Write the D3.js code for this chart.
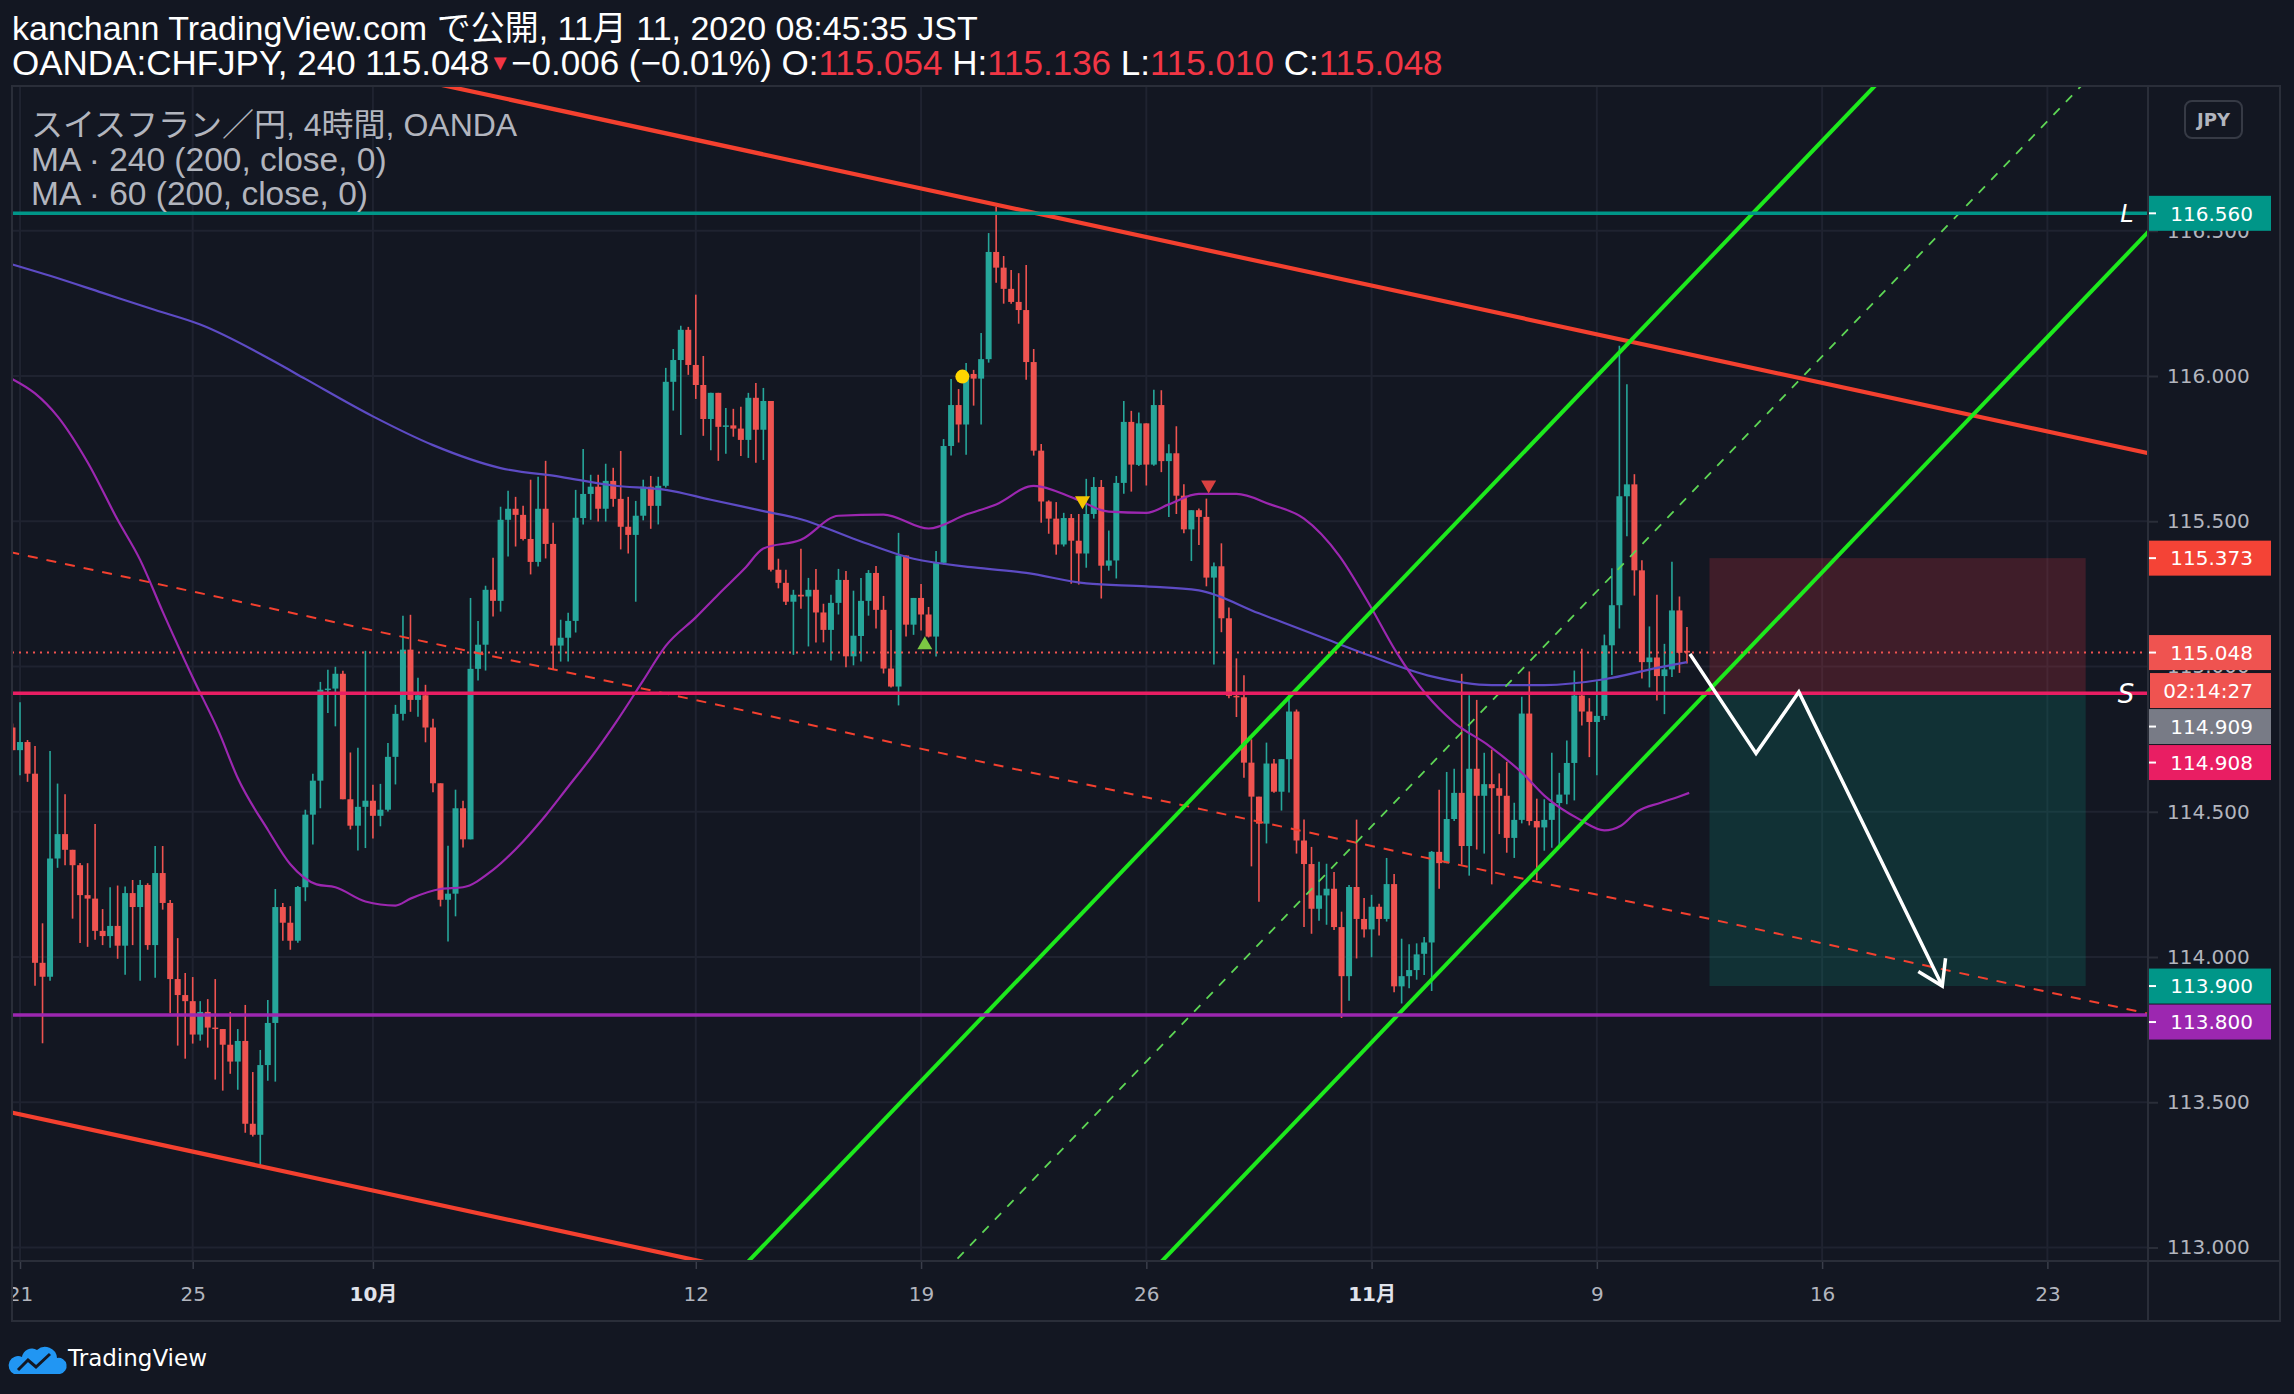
<!DOCTYPE html>
<html>
<head>
<meta charset="utf-8">
<title>CHFJPY 240</title>
<script src="https://cdn.jsdelivr.net/npm/d3@7/dist/d3.min.js"></script>
<style>
  body { margin: 0; background: #131722; overflow: hidden; }
  svg { display: block; }
</style>
</head>
<body>
<svg id="chart" width="2294" height="1394"></svg>
<script>
// 4h candles, Sep 21 -> Nov 11 (index = bar number)
let opens = [
  114.790, 114.712, 114.740, 114.631, 113.980, 113.932, 114.339, 114.423, 114.369, 114.316,
  114.213, 114.201, 114.090, 114.072, 114.107, 114.039, 114.220, 114.172, 114.248, 114.041,
  114.289, 114.186, 113.924, 113.869, 113.848, 113.733, 113.811, 113.757, 113.752, 113.698,
  113.640, 113.711, 113.426, 113.388, 113.628, 113.773, 114.172, 114.118, 114.056, 114.240,
  114.490, 114.607, 114.920, 114.924, 114.975, 114.543, 114.452, 114.517, 114.538, 114.486,
  114.507, 114.689, 114.837, 115.058, 114.885, 114.901, 114.790, 114.598, 114.197, 114.218,
  114.512, 114.405, 114.992, 115.075, 115.264, 115.226, 115.505, 115.543, 115.522, 115.439,
  115.360, 115.543, 115.422, 115.072, 115.099, 115.157, 115.511, 115.594, 115.619, 115.543,
  115.639, 115.577, 115.481, 115.453, 115.519, 115.619, 115.553, 115.622, 115.980, 116.055,
  116.159, 116.038, 115.969, 115.852, 115.942, 115.825, 115.830, 115.819, 115.780, 115.925,
  115.815, 115.914, 115.333, 115.288, 115.223, 115.247, 115.241, 115.264, 115.186, 115.126,
  115.219, 115.298, 115.035, 115.105, 115.226, 115.322, 115.195, 114.993, 114.931, 115.382,
  115.144, 115.236, 115.179, 115.103, 115.357, 115.759, 115.900, 115.833, 116.007, 115.991,
  116.058, 116.427, 116.373, 116.300, 116.255, 116.227, 116.048, 115.743, 115.568, 115.509,
  115.420, 115.511, 115.433, 115.389, 115.525, 115.618, 115.347, 115.365, 115.632, 115.842,
  115.694, 115.837, 115.695, 115.900, 115.707, 115.734, 115.588, 115.472, 115.538, 115.515,
  115.306, 115.345, 115.166, 114.899, 114.894, 114.669, 114.552, 114.459, 114.666, 114.569,
  114.681, 114.845, 114.401, 114.320, 114.166, 114.212, 114.235, 114.103, 113.934, 114.241,
  114.131, 114.095, 114.173, 114.131, 114.251, 113.899, 113.934, 113.955, 114.011, 114.050,
  114.362, 114.323, 114.475, 114.565, 114.382, 114.648, 114.555, 114.595, 114.581, 114.555,
  114.410, 114.472, 114.838, 114.468, 114.446, 114.472, 114.530, 114.559, 114.668, 114.900,
  114.845, 114.809, 114.830, 115.073, 115.211, 115.586, 115.627, 115.331, 115.015, 115.031,
  114.967, 114.990, 115.193, 115.054
];
let highs = [
  114.804, 114.877, 114.747, 114.726, 114.116, 114.709, 114.597, 114.560, 114.369, 114.324,
  114.323, 114.458, 114.165, 114.240, 114.246, 114.243, 114.265, 114.265, 114.254, 114.382,
  114.382, 114.196, 114.065, 113.945, 113.931, 113.848, 113.855, 113.924, 113.752, 113.811,
  113.752, 113.835, 113.604, 113.680, 113.852, 114.234, 114.186, 114.175, 114.244, 114.507,
  114.631, 114.947, 114.989, 114.999, 114.985, 114.704, 114.720, 115.054, 114.593, 114.596,
  114.737, 114.868, 115.175, 115.178, 114.961, 114.937, 114.820, 114.598, 114.383, 114.576,
  114.538, 115.236, 115.157, 115.278, 115.374, 115.550, 115.605, 115.584, 115.553, 115.643,
  115.653, 115.708, 115.495, 115.161, 115.185, 115.608, 115.749, 115.660, 115.660, 115.698,
  115.684, 115.742, 115.584, 115.570, 115.643, 115.656, 115.653, 116.028, 116.093, 116.173,
  116.169, 116.280, 116.069, 115.942, 115.942, 115.890, 115.887, 115.894, 115.942, 115.976,
  115.959, 115.914, 115.371, 115.333, 115.264, 115.405, 115.305, 115.336, 115.216, 115.247,
  115.336, 115.329, 115.261, 115.305, 115.332, 115.346, 115.243, 115.126, 115.460, 115.382,
  115.236, 115.284, 115.205, 115.398, 115.783, 115.990, 115.955, 116.045, 116.021, 116.148,
  116.492, 116.583, 116.413, 116.365, 116.354, 116.382, 116.093, 115.766, 115.572, 115.566,
  115.529, 115.525, 115.525, 115.646, 115.652, 115.642, 115.468, 115.656, 115.914, 115.880,
  115.874, 115.837, 115.953, 115.951, 115.765, 115.827, 115.627, 115.538, 115.544, 115.578,
  115.358, 115.424, 115.203, 115.028, 114.970, 114.749, 114.552, 114.738, 114.682, 114.681,
  114.897, 114.852, 114.473, 114.379, 114.328, 114.321, 114.293, 114.156, 114.248, 114.473,
  114.203, 114.214, 114.183, 114.341, 114.286, 114.063, 114.044, 114.047, 114.069, 114.365,
  114.576, 114.637, 114.648, 114.975, 114.901, 114.885, 114.703, 114.714, 114.632, 114.672,
  114.531, 114.896, 114.983, 114.545, 114.543, 114.703, 114.634, 114.745, 114.986, 115.061,
  114.891, 114.949, 115.110, 115.338, 116.104, 115.972, 115.662, 115.366, 115.138, 115.247,
  115.078, 115.361, 115.241, 115.136
];
let lows = [
  114.712, 114.626, 114.603, 113.901, 113.703, 113.918, 114.307, 114.316, 114.132, 114.048,
  114.035, 114.059, 114.041, 114.032, 113.994, 113.939, 114.041, 113.918, 114.025, 113.929,
  114.163, 113.806, 113.695, 113.650, 113.702, 113.712, 113.688, 113.578, 113.540, 113.598,
  113.543, 113.395, 113.382, 113.284, 113.574, 113.571, 114.056, 114.025, 114.049, 114.192,
  114.387, 114.512, 114.840, 114.794, 114.543, 114.439, 114.367, 114.375, 114.408, 114.450,
  114.501, 114.594, 114.814, 114.844, 114.827, 114.739, 114.567, 114.174, 114.053, 114.140,
  114.377, 114.405, 114.952, 114.986, 115.172, 115.189, 115.379, 115.413, 115.434, 115.317,
  115.344, 115.372, 114.990, 115.017, 115.017, 115.117, 115.489, 115.505, 115.499, 115.499,
  115.550, 115.403, 115.389, 115.223, 115.503, 115.474, 115.489, 115.616, 115.881, 115.797,
  116.004, 115.921, 115.794, 115.744, 115.708, 115.732, 115.791, 115.725, 115.718, 115.701,
  115.711, 115.327, 115.269, 115.212, 115.040, 115.199, 115.069, 115.083, 115.083, 115.021,
  115.179, 114.997, 115.004, 115.017, 115.175, 115.131, 114.976, 114.928, 114.866, 115.103,
  115.109, 115.124, 115.100, 115.034, 115.351, 115.726, 115.771, 115.729, 115.898, 115.833,
  116.046, 116.321, 116.249, 116.249, 116.180, 115.987, 115.726, 115.495, 115.457, 115.385,
  115.413, 115.285, 115.282, 115.340, 115.509, 115.234, 115.330, 115.303, 115.595, 115.602,
  115.690, 115.623, 115.691, 115.669, 115.515, 115.525, 115.459, 115.363, 115.418, 115.276,
  115.007, 115.118, 114.891, 114.826, 114.617, 114.312, 114.190, 114.391, 114.565, 114.504,
  114.566, 114.356, 114.103, 114.080, 114.125, 114.111, 114.093, 113.790, 113.849, 113.995,
  114.067, 113.999, 114.074, 114.122, 113.879, 113.840, 113.892, 113.922, 113.938, 113.883,
  114.235, 114.323, 114.468, 114.318, 114.280, 114.370, 114.356, 114.250, 114.423, 114.359,
  114.341, 114.460, 114.453, 114.264, 114.366, 114.376, 114.385, 114.526, 114.539, 114.797,
  114.688, 114.626, 114.816, 114.971, 115.131, 115.448, 115.244, 114.959, 114.928, 114.883,
  114.836, 114.964, 114.978, 115.010
];
let closes = [
  114.712, 114.740, 114.631, 113.980, 113.932, 114.339, 114.423, 114.369, 114.316, 114.213,
  114.201, 114.090, 114.072, 114.107, 114.039, 114.220, 114.172, 114.248, 114.041, 114.289,
  114.186, 113.924, 113.869, 113.848, 113.733, 113.811, 113.757, 113.752, 113.698, 113.640,
  113.711, 113.426, 113.388, 113.628, 113.773, 114.172, 114.118, 114.056, 114.241, 114.490,
  114.607, 114.920, 114.924, 114.975, 114.543, 114.452, 114.517, 114.538, 114.486, 114.507,
  114.689, 114.837, 115.058, 114.885, 114.901, 114.790, 114.598, 114.197, 114.218, 114.512,
  114.405, 114.992, 115.075, 115.264, 115.226, 115.505, 115.543, 115.522, 115.439, 115.360,
  115.543, 115.422, 115.072, 115.099, 115.157, 115.512, 115.594, 115.619, 115.543, 115.639,
  115.577, 115.481, 115.453, 115.519, 115.619, 115.553, 115.622, 115.980, 116.055, 116.159,
  116.038, 115.969, 115.852, 115.942, 115.825, 115.830, 115.819, 115.780, 115.925, 115.815,
  115.914, 115.333, 115.288, 115.223, 115.247, 115.241, 115.264, 115.186, 115.126, 115.219,
  115.298, 115.035, 115.106, 115.226, 115.322, 115.195, 114.993, 114.931, 115.382, 115.144,
  115.236, 115.179, 115.103, 115.357, 115.759, 115.900, 115.833, 116.007, 115.991, 116.058,
  116.427, 116.373, 116.300, 116.255, 116.227, 116.048, 115.743, 115.568, 115.509, 115.420,
  115.511, 115.433, 115.389, 115.525, 115.618, 115.347, 115.365, 115.632, 115.842, 115.695,
  115.837, 115.695, 115.900, 115.707, 115.734, 115.588, 115.472, 115.538, 115.515, 115.306,
  115.345, 115.166, 114.899, 114.894, 114.669, 114.552, 114.459, 114.666, 114.569, 114.681,
  114.845, 114.401, 114.320, 114.166, 114.212, 114.235, 114.103, 113.934, 114.241, 114.131,
  114.095, 114.173, 114.131, 114.251, 113.899, 113.934, 113.955, 114.009, 114.050, 114.362,
  114.323, 114.475, 114.565, 114.382, 114.648, 114.555, 114.595, 114.581, 114.555, 114.410,
  114.472, 114.838, 114.468, 114.446, 114.472, 114.530, 114.559, 114.668, 114.900, 114.845,
  114.809, 114.830, 115.073, 115.211, 115.586, 115.627, 115.331, 115.015, 115.031, 114.967,
  114.990, 115.193, 115.047, 115.048
];

// moving averages (bar index, value)
let ma240Bars = [0, 5, 12, 19, 25, 35, 39, 48, 56, 65, 73, 80, 87, 93, 100, 105, 112, 120, 128, 135,
  143, 151, 158, 166, 174, 181, 189, 197, 204, 212, 219, 223];
let ma240Values = [116.384, 116.345, 116.286, 116.227, 116.177, 116.048, 115.990, 115.861, 115.762, 115.683,
  115.653, 115.623, 115.608, 115.574, 115.535, 115.507, 115.440, 115.371, 115.341, 115.322,
  115.286, 115.276, 115.262, 115.183, 115.104, 115.035, 114.966, 114.936, 114.936, 114.956,
  114.995, 115.015];
let ma60Bars = [0, 3, 6, 10, 14, 17, 20, 24, 27.5, 30, 34, 37, 40.5, 43, 47, 51, 53, 57, 60, 64,
  68, 71, 74, 77, 80.5, 84, 87, 91, 94, 97.5, 100, 105, 110, 116, 122, 127, 131, 136, 141.5, 146,
  151, 154, 158, 163, 167.5, 172, 176.7, 180.5, 184.4, 188.2, 192, 196.6, 201.2, 204.2, 208.8, 212,
  214.2, 216.4, 219.5, 221.8, 223.3];
let ma60Values = [115.989, 115.940, 115.861, 115.703, 115.505, 115.367, 115.189, 114.962, 114.774, 114.616,
  114.438, 114.319, 114.250, 114.240, 114.191, 114.177, 114.201, 114.234, 114.240, 114.300,
  114.398, 114.487, 114.586, 114.685, 114.813, 114.952, 115.071, 115.169, 115.248, 115.337,
  115.406, 115.436, 115.519, 115.523, 115.475, 115.523, 115.558, 115.622, 115.578, 115.533,
  115.529, 115.558, 115.594, 115.594, 115.558, 115.509, 115.381, 115.223, 115.045, 114.906,
  114.807, 114.728, 114.630, 114.551, 114.472, 114.436, 114.452, 114.501, 114.531, 114.551,
  114.565];

// axes
let priceTicks = [113.0, 113.5, 114.0, 114.5, 115.0, 115.5, 116.0, 116.5];
let timeTickBars = [1, 24, 48, 91, 121, 151, 181, 211, 241, 271];
let timeLabels = ["21", "25", "10月", "12", "19", "26", "11月", "9", "16", "23"];

// drawings, as [bar, price]
let redChannelTop = [[60, 116.986], [290, 115.703]];
let redChannelBottom = [[0, 113.464], [290, 111.846]];
let redChannelMid = [[0, 115.392], [290, 113.774]];
let greenChannelUpper = [[118.6, 113.508], [248.3, 117.006]];
let greenChannelLower = [[173.65, 113.508], [284.4, 116.495]];
let greenChannelMid = [[146.1, 113.508], [276.3, 117.020]];
let levelL = 116.560;
let levelS = 114.908;
let levelSupport = 113.800;
let lastPrice = 115.048;
let positionBars = [226, 276.1];
let positionStop = 115.373;
let positionEntry = 114.908;
let positionTarget = 113.900;
let arrowBars = [223.4, 232.2, 237.9, 257.0];
let arrowPrices = [115.043, 114.701, 114.912, 113.900];
let markerBars = [121.5, 126.5, 142.5, 159.3];
let markerPrices = [115.080, 115.998, 115.565, 115.620];
let markerKinds = ["up", "dot", "down", "down"];
let axisLabelPrices = [116.560, 115.373, 115.048, 114.909, 114.908, 113.900, 113.800];
let countdown = "02:14:27";

// ---------------------------------------------------------------
let width = 2294, height = 1394;
let plotLeft = 12, plotRight = 2148, plotTop = 87, plotBottom = 1261;
let frameRight = 2280, frameBottom = 1321;

let bgColor = "#131722";
let gridColor = "#1f2330";
let borderColor = "#2a2e39";
let axisTextColor = "#b2b5be";
let upColor = "#26a69a";
let downColor = "#ef5350";
let fontFamily = "'DejaVu Sans', 'Noto Sans CJK JP', sans-serif";
let headerFont = "'Liberation Sans', Arial, 'Noto Sans CJK JP', sans-serif";

let svg = d3.select("#chart");

let x = d3.scaleLinear().domain([0, 284.4]).range([12.5, plotRight]);
let y = d3.scaleLinear().domain([113, 116]).range([1247.5, 376]);

svg.append("rect")
  .attr("width", width)
  .attr("height", height)
  .attr("fill", bgColor);

let defs = svg.append("defs");
defs.append("clipPath").attr("id", "plotClip")
  .append("rect")
  .attr("x", plotLeft).attr("y", plotTop)
  .attr("width", plotRight - plotLeft).attr("height", plotBottom - plotTop);
defs.append("clipPath").attr("id", "timeClip")
  .append("rect")
  .attr("x", plotLeft).attr("y", plotBottom)
  .attr("width", plotRight - plotLeft).attr("height", frameBottom - plotBottom);

//grid
svg.append("g")
  .selectAll(".hgrid")
  .data(priceTicks)
  .enter().append("line")
    .attr("class", "hgrid")
    .attr("x1", plotLeft).attr("x2", plotRight)
    .attr("y1", d => y(d)).attr("y2", d => y(d))
    .attr("stroke", gridColor)
    .attr("stroke-width", 2);

svg.append("g")
  .selectAll(".vgrid")
  .data(timeTickBars)
  .enter().append("line")
    .attr("class", "vgrid")
    .attr("x1", d => x(d)).attr("x2", d => x(d))
    .attr("y1", plotTop).attr("y2", plotBottom)
    .attr("stroke", gridColor)
    .attr("stroke-width", 2);

let plot = svg.append("g").attr("clip-path", "url(#plotClip)");

//position tool (short)
plot.append("rect")
  .attr("x", x(positionBars[0]))
  .attr("width", x(positionBars[1]) - x(positionBars[0]))
  .attr("y", y(positionStop))
  .attr("height", y(positionEntry) - y(positionStop))
  .attr("fill", "rgba(242, 54, 69, 0.2)");
plot.append("rect")
  .attr("x", x(positionBars[0]))
  .attr("width", x(positionBars[1]) - x(positionBars[0]))
  .attr("y", y(positionEntry))
  .attr("height", y(positionTarget) - y(positionEntry))
  .attr("fill", "rgba(8, 153, 129, 0.2)");

//candles
let bars = d3.range(opens.length);
let barColor = i => closes[i] >= opens[i] ? upColor : downColor;

plot.append("g")
  .selectAll(".wick")
  .data(bars)
  .enter().append("line")
    .attr("class", "wick")
    .attr("x1", i => x(i)).attr("x2", i => x(i))
    .attr("y1", i => y(highs[i])).attr("y2", i => y(lows[i]))
    .attr("stroke", barColor)
    .attr("stroke-width", 1.6);

plot.append("g")
  .selectAll(".body")
  .data(bars)
  .enter().append("rect")
    .attr("class", "body")
    .attr("x", i => x(i) - 3)
    .attr("width", 6)
    .attr("y", i => y(Math.max(opens[i], closes[i])))
    .attr("height", i => Math.max(1.5, Math.abs(y(opens[i]) - y(closes[i]))))
    .attr("fill", barColor);

//moving averages
let maLine = d3.line()
  .x(d => x(d[0]))
  .y(d => y(d[1]))
  .curve(d3.curveMonotoneX);

plot.append("path")
  .attr("d", maLine(d3.zip(ma240Bars, ma240Values)))
  .attr("fill", "none")
  .attr("stroke", "#5d4bc4")
  .attr("stroke-width", 2.2);

plot.append("path")
  .attr("d", maLine(d3.zip(ma60Bars, ma60Values)))
  .attr("fill", "none")
  .attr("stroke", "#9c27b0")
  .attr("stroke-width", 2.2);

//extended trend lines
function drawExtended(pts, color, w, dash) {
  let slope = (pts[1][1] - pts[0][1]) / (pts[1][0] - pts[0][0]);
  let b0 = -40, b1 = 330;
  let line = plot.append("line")
    .attr("x1", x(b0)).attr("y1", y(pts[0][1] + slope * (b0 - pts[0][0])))
    .attr("x2", x(b1)).attr("y2", y(pts[0][1] + slope * (b1 - pts[0][0])))
    .attr("stroke", color)
    .attr("stroke-width", w);
  if (dash) line.attr("stroke-dasharray", dash);
}

drawExtended(redChannelMid, "#f4402f", 2, "10, 9");
drawExtended(redChannelTop, "#f4402f", 4.2, null);
drawExtended(redChannelBottom, "#f4402f", 4.2, null);
drawExtended(greenChannelMid, "#5ed655", 1.8, "9, 9");
drawExtended(greenChannelUpper, "#1de91d", 4, null);
drawExtended(greenChannelLower, "#1de91d", 4, null);

//horizontal levels
function drawLevel(p, color, w, dash) {
  let line = plot.append("line")
    .attr("x1", plotLeft).attr("x2", plotRight)
    .attr("y1", y(p)).attr("y2", y(p))
    .attr("stroke", color)
    .attr("stroke-width", w);
  if (dash) line.attr("stroke-dasharray", dash);
}
drawLevel(lastPrice, "#ef5350", 2, "2, 5");
drawLevel(levelL, "#009688", 3.5, null);
drawLevel(levelS, "#e91e63", 3.5, null);
drawLevel(levelSupport, "#9c27b0", 3.5, null);

//hand drawn arrow
let arrowPts = d3.zip(arrowBars, arrowPrices).map(d => [x(d[0]), y(d[1])]);
plot.append("path")
  .attr("d", d3.line()(arrowPts))
  .attr("fill", "none")
  .attr("stroke", "#ffffff")
  .attr("stroke-width", 3.5)
  .attr("stroke-linejoin", "miter");

let tip = arrowPts[arrowPts.length - 1];
let prev = arrowPts[arrowPts.length - 2];
let ang = Math.atan2(tip[1] - prev[1], tip[0] - prev[0]);
let headLen = 28, headSpread = Math.PI / 5.5;
plot.append("path")
  .attr("d", "M" + (tip[0] - headLen * Math.cos(ang - headSpread)) + "," + (tip[1] - headLen * Math.sin(ang - headSpread)) +
             "L" + tip[0] + "," + tip[1] +
             "L" + (tip[0] - headLen * Math.cos(ang + headSpread)) + "," + (tip[1] - headLen * Math.sin(ang + headSpread)))
  .attr("fill", "none")
  .attr("stroke", "#ffffff")
  .attr("stroke-width", 3.5);

//signal markers
markerBars.forEach(function(b, i) {
  let cx = x(b), cy = y(markerPrices[i]);
  if (markerKinds[i] == "dot") {
    plot.append("circle")
      .attr("cx", cx).attr("cy", cy).attr("r", 7)
      .attr("fill", "#ffd600");
  } else if (markerKinds[i] == "up") {
    plot.append("path")
      .attr("d", "M" + cx + "," + (cy - 7) + "L" + (cx + 7.5) + "," + (cy + 6) + "L" + (cx - 7.5) + "," + (cy + 6) + "Z")
      .attr("fill", "#7cc843");
  } else {
    plot.append("path")
      .attr("d", "M" + cx + "," + (cy + 7) + "L" + (cx + 7.5) + "," + (cy - 6) + "L" + (cx - 7.5) + "," + (cy - 6) + "Z")
      .attr("fill", i == 2 ? "#f5c400" : "#d94141");
  }
});

//L and S tags
svg.append("text")
  .attr("x", 2127).attr("y", y(levelL))
  .attr("dy", "0.36em")
  .attr("text-anchor", "middle")
  .style("font-family", fontFamily)
  .style("font-style", "italic")
  .style("font-size", "24px")
  .style("fill", "#ffffff")
  .text("L");
svg.append("text")
  .attr("x", 2126).attr("y", y(levelS))
  .attr("dy", "0.36em")
  .attr("text-anchor", "middle")
  .style("font-family", fontFamily)
  .style("font-style", "italic")
  .style("font-size", "26px")
  .style("fill", "#ffffff")
  .text("S");

//price axis
let priceAxis = svg.append("g")
  .attr("transform", "translate(" + plotRight + ",0)")
  .call(d3.axisRight(y).tickValues(priceTicks).tickSize(10).tickPadding(9).tickFormat(d3.format(".3f")));
priceAxis.select(".domain").remove();
priceAxis.selectAll("line").attr("stroke", borderColor).attr("stroke-width", 2);
priceAxis.selectAll("text")
  .style("font-family", fontFamily)
  .style("font-size", "20px")
  .style("fill", axisTextColor);

//time axis (clip sits on an outer group so it is not shifted by the axis transform)
let timeAxis = svg.append("g")
  .attr("clip-path", "url(#timeClip)")
  .append("g")
  .attr("transform", "translate(0," + plotBottom + ")")
  .call(d3.axisBottom(x).tickValues(timeTickBars).tickSize(8).tickPadding(18).tickFormat((d, i) => timeLabels[i]));
timeAxis.select(".domain").remove();
timeAxis.selectAll("line").attr("stroke", "#3a3e4a").attr("stroke-width", 1.5);
timeAxis.selectAll("text")
  .style("font-family", fontFamily)
  .style("font-size", "20px")
  .style("fill", (d, i) => timeLabels[i].indexOf("月") >= 0 ? "#e0e3eb" : axisTextColor)
  .style("font-weight", (d, i) => timeLabels[i].indexOf("月") >= 0 ? "bold" : "normal");

//price labels on the axis, stacked so they do not overlap
let labelColors = ["#009688", "#f44336", "#ef5350", "#787b86", "#e91e63", "#009688", "#9c27b0"];
let boxH = 36;
let placed = [];
let lastBottom = -1000;
axisLabelPrices.forEach(function(p, i) {
  let cy = Math.max(y(p), lastBottom + boxH / 2);
  placed.push({cy: cy, text: p.toFixed(3), color: labelColors[i], tick: true});
  lastBottom = cy + boxH / 2;
  if (p == lastPrice) {
    placed.push({cy: cy + 38, text: countdown, color: labelColors[i], tick: false});
    lastBottom = cy + 38 + boxH / 2;
  }
});

let labelG = svg.append("g").selectAll(".plabel").data(placed).enter().append("g");
labelG.append("rect")
  .attr("x", d => d.tick ? plotRight : plotRight + 2)
  .attr("y", d => d.cy - boxH / 2 + 0.5)
  .attr("width", d => d.tick ? 123 : 121)
  .attr("height", boxH - 1)
  .attr("fill", d => d.color);
labelG.filter(d => d.tick).append("line")
  .attr("x1", plotRight).attr("x2", plotRight + 8)
  .attr("y1", d => d.cy).attr("y2", d => d.cy)
  .attr("stroke", "#ffffff")
  .attr("stroke-width", 2);
labelG.append("text")
  .attr("x", 2253)
  .attr("y", d => d.cy)
  .attr("dy", "0.36em")
  .attr("text-anchor", "end")
  .style("font-family", fontFamily)
  .style("font-size", "20px")
  .style("fill", "#ffffff")
  .text(d => d.text);

//currency button
svg.append("rect")
  .attr("x", 2185).attr("y", 101)
  .attr("width", 57).attr("height", 37)
  .attr("rx", 7)
  .attr("fill", "none")
  .attr("stroke", "#363a45")
  .attr("stroke-width", 2);
svg.append("text")
  .attr("x", 2213.5).attr("y", 119.5)
  .attr("dy", "0.36em")
  .attr("text-anchor", "middle")
  .style("font-family", fontFamily)
  .style("font-size", "18px")
  .style("font-weight", "bold")
  .style("fill", "#b2b5be")
  .text("JPY");

//frame
let frame = svg.append("g")
  .attr("stroke", borderColor)
  .attr("stroke-width", 2)
  .attr("fill", "none");
frame.append("rect")
  .attr("x", plotLeft).attr("y", plotTop - 1)
  .attr("width", frameRight - plotLeft).attr("height", frameBottom - plotTop + 1);
frame.append("line").attr("x1", plotRight).attr("x2", plotRight).attr("y1", plotTop - 1).attr("y2", frameBottom);
frame.append("line").attr("x1", plotLeft).attr("x2", frameRight).attr("y1", plotBottom).attr("y2", plotBottom);

//legend
let legend = ["スイスフラン／円, 4時間, OANDA", "MA · 240 (200, close, 0)", "MA · 60 (200, close, 0)"];
svg.append("g")
  .selectAll(".legend")
  .data(legend)
  .enter().append("text")
    .attr("x", 31)
    .attr("y", (d, i) => 136 + i * 34.5)
    .text(d => d)
    .style("font-family", headerFont)
    .style("font-size", (d, i) => i == 0 ? "32px" : "33.5px")
    .style("fill", "#b2b5be");

//header
svg.append("text")
  .attr("x", 12).attr("y", 40)
  .style("font-family", headerFont)
  .style("font-size", "34px")
  .style("fill", "#ffffff")
  .text("kanchann TradingView.com で公開, 11月 11, 2020 08:45:35 JST");

let red = "#f23645";
let header2 = svg.append("text")
  .attr("x", 12).attr("y", 75)
  .style("font-family", headerFont)
  .style("font-size", "35px")
  .style("fill", "#ffffff");
header2.append("tspan").text("OANDA:CHFJPY, 240 115.048");
header2.append("tspan").attr("dy", -5).style("font-size", "22px").style("fill", red).text("▼");
header2.append("tspan").attr("dy", 5).text("−0.006 (−0.01%) O:");
header2.append("tspan").style("fill", red).text("115.054");
header2.append("tspan").text(" H:");
header2.append("tspan").style("fill", red).text("115.136");
header2.append("tspan").text(" L:");
header2.append("tspan").style("fill", red).text("115.010");
header2.append("tspan").text(" C:");
header2.append("tspan").style("fill", red).text("115.048");

//tradingview logo
let logo = svg.append("g");
logo.append("path")
  .attr("d", "M14,1374 L60,1374 A8,8 0 0 0 57,1358 A12,12 0 0 0 37,1350 A10,10 0 0 0 22,1357 A9,9 0 0 0 14,1374 Z")
  .attr("fill", "#2196f3");
logo.append("path")
  .attr("d", "M18,1370 L28,1360 L36,1367 L50,1354")
  .attr("fill", "none")
  .attr("stroke", bgColor)
  .attr("stroke-width", 3);
svg.append("text")
  .attr("x", 68).attr("y", 1366)
  .style("font-family", fontFamily)
  .style("font-size", "23px")
  .style("fill", "#ffffff")
  .text("TradingView");
</script>
</body>
</html>
